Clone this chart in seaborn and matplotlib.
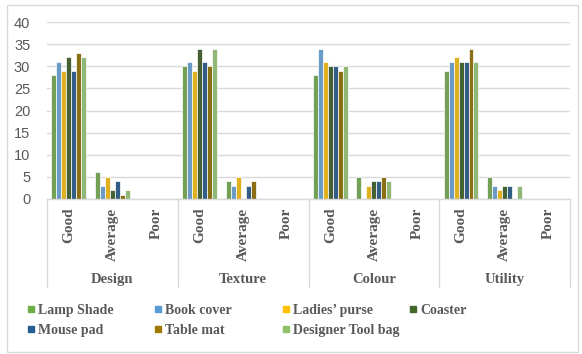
import matplotlib
matplotlib.use("Agg")
import matplotlib.pyplot as plt
from matplotlib.lines import Line2D
from matplotlib.patches import Rectangle
import seaborn as sns
import pandas as pd

# Survey data: ratings per aspect for each product
aspects = ["Design", "Texture", "Colour", "Utility"]
ratings = ["Good", "Average", "Poor"]
products = ["Lamp Shade", "Book cover", "Ladies\u2019 purse", "Coaster",
            "Mouse pad", "Table mat", "Designer Tool bag"]

lamp_shade = [28, 6, 0, 30, 4, 0, 28, 5, 0, 29, 5, 0]
book_cover = [31, 3, 0, 31, 3, 0, 34, 0, 0, 31, 3, 0]
ladies_purse = [29, 5, 0, 29, 5, 0, 31, 3, 0, 32, 2, 0]
coaster = [32, 2, 0, 34, 0, 0, 30, 4, 0, 31, 3, 0]
mouse_pad = [29, 4, 0, 31, 3, 0, 30, 4, 0, 31, 3, 0]
table_mat = [33, 1, 0, 30, 4, 0, 29, 5, 0, 34, 0, 0]
tool_bag = [32, 2, 0, 34, 0, 0, 30, 4, 0, 31, 3, 0]

series = [lamp_shade, book_cover, ladies_purse, coaster, mouse_pad, table_mat, tool_bag]
colors = ["#70AD47", "#5B9BD5", "#FFC000", "#43682B", "#255E91", "#9E7A00", "#8DC26A"]

categories = [f"{a} {r}" for a in aspects for r in ratings]
rows = []
for prod, vals in zip(products, series):
    for cat, v in zip(categories, vals):
        rows.append({"category": cat, "product": prod, "value": v})
df = pd.DataFrame(rows)

sns.set_theme(style="white")
plt.rcParams["font.family"] = ["DejaVu Sans"]

W, H = 582, 354
fig = plt.figure(figsize=(W / 100, H / 100), dpi=100)
ax = fig.add_axes([47 / W, 1 - 199 / H, (570 - 47) / W, 177 / H])

sns.barplot(data=df, x="category", y="value", hue="product", order=categories,
            hue_order=products, palette=dict(zip(products, colors)),
            errorbar=None, width=0.8, edgecolor="white", linewidth=0.5,
            legend=False, ax=ax)

grid_c = "#D9D9D9"
text_c = "#595959"
ax.set_ylim(0, 40)
ax.set_xlim(-0.5, len(categories) - 0.5)
ax.set_yticks(range(0, 41, 5))
ax.yaxis.grid(True, color=grid_c, linewidth=1)
ax.set_axisbelow(True)
for s in ["top", "right", "left"]:
    ax.spines[s].set_visible(False)
ax.spines["bottom"].set_color(grid_c)
ax.spines["bottom"].set_linewidth(1)
ax.tick_params(axis="y", length=0, pad=12, labelsize=10.5, labelcolor=text_c)
ax.set_xticks([])
ax.set_xlabel("")
ax.set_ylabel("")
for lab in ax.get_yticklabels():
    lab.set_family("Liberation Sans")

serif = "Liberation Serif"
xt = ax.get_xaxis_transform()
for i, cat in enumerate(categories):
    r = cat.split(" ", 1)[1]
    ax.text(i, -0.05, r, rotation=90, ha="center", va="top", transform=xt,
            family=serif, fontweight="bold", fontsize=11, color=text_c, clip_on=False)
for g, a in enumerate(aspects):
    ax.text(g * 3 + 1, -0.452, a, ha="center", va="center", transform=xt,
            family=serif, fontweight="bold", fontsize=10.5, color=text_c, clip_on=False)
for b in range(len(aspects) + 1):
    ax.add_line(Line2D([b * 3 - 0.5] * 2, [0, -0.497], transform=xt,
                       color=grid_c, linewidth=1, clip_on=False))

# Legend laid out in four columns of two rows
col_x = [27, 154, 282, 409]
for c, x in enumerate(col_x):
    idx = [c, c + 4] if c + 4 < len(products) else [c]
    handles = [Line2D([], [], marker="s", linestyle="none", markersize=5,
                      color=colors[k]) for k in idx]
    leg = fig.legend(handles, [products[k] for k in idx], loc="upper left",
                     bbox_to_anchor=(x / W, 1 - 304 / H), frameon=False,
                     handlelength=0.55, handletextpad=0.25, labelspacing=0.5,
                     borderpad=0, borderaxespad=0,
                     prop={"family": serif, "weight": "bold", "size": 10})
    for t in leg.get_texts():
        t.set_color(text_c)

fig.patches.append(Rectangle((7 / W, 1 - 352 / H), (578 - 7) / W, (352 - 5) / H,
                             transform=fig.transFigure, fill=False,
                             edgecolor=grid_c, linewidth=1))

fig.savefig("out.png", dpi=100, facecolor="white")
